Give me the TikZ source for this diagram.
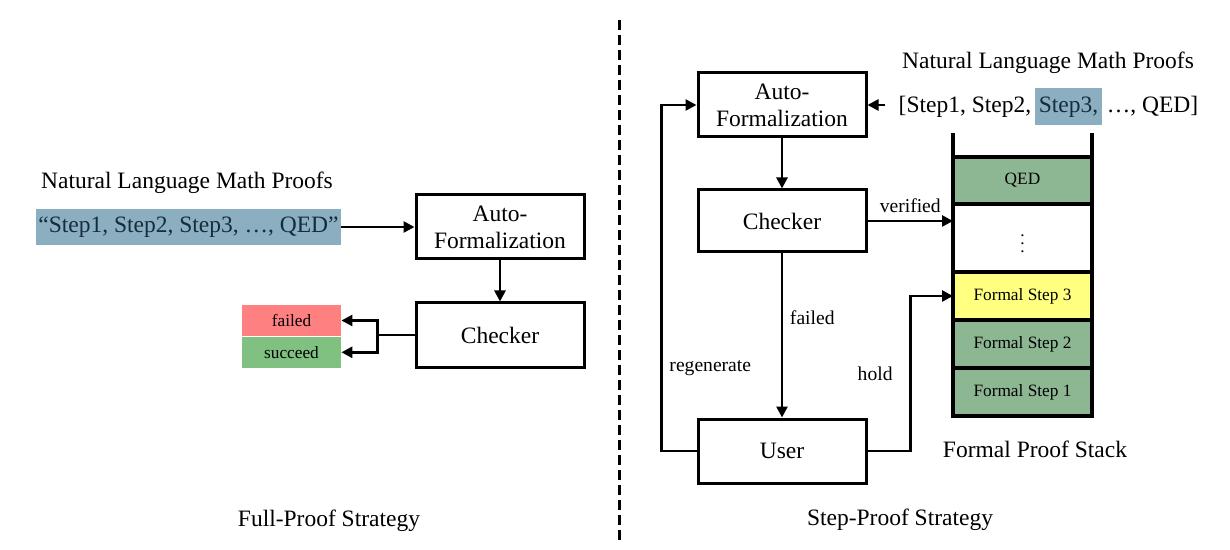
\documentclass[tikz,border=0pt]{standalone}
\usepackage{fontspec}
\setmainfont{Liberation Serif}
\usepackage{xcolor}
\usetikzlibrary{arrows.meta, calc, positioning}
\definecolor{proofblue}{RGB}{139,175,192}
\definecolor{prooftext}{RGB}{20,45,60}
\definecolor{failred}{RGB}{255,128,128}
\definecolor{succgreen}{RGB}{128,192,128}
\definecolor{stackgreen}{RGB}{141,183,146}
\definecolor{stackyellow}{RGB}{255,255,128}
\newcommand{\txtbig}{\fontsize{11.75}{13.5}\selectfont}
\newcommand{\txtmid}{\fontsize{9.8}{11}\selectfont}
\newcommand{\txtsmall}{\fontsize{8.65}{10}\selectfont}

\begin{document}
\begin{tikzpicture}[
x=0.5pt, y=-0.5pt,
texts/.style = {text=black, font=\txtbig},
labeltexts/.style = {text=black, font=\txtmid},
celltexts/.style = {text=black, font=\txtsmall},
procbox/.style = {texts, draw, line width=1.5pt, minimum width=84pt, minimum height=32pt, align=center, inner sep=0pt},
arrowline/.style = {line width=1.3pt, -{Triangle[length=5.5pt, width=5.5pt]}},
plainline/.style = {line width=1.3pt},
resultbox/.style = {celltexts, minimum width=49.5pt, minimum height=15.5pt, inner sep=0pt},
stackcell/.style = {celltexts, draw, line width=1.7pt, outer sep=0pt, minimum width=69.5pt, minimum height=24pt, inner sep=0pt},
stackwall/.style = {line width=1.7pt},
listtexts/.style = {texts, text height=9pt, text depth=3pt, inner ysep=0pt, inner xsep=0pt}
]
\useasboundingbox (0,0) rectangle (1230,550);

% full-proof side
\node[texts] (lnlp) at (187,183) {Natural Language Math Proofs};
\node[texts, fill=proofblue, text=prooftext, minimum width=152.5pt, minimum height=18pt, inner sep=0pt] (lproof) at (188.5,227) {“Step1, Step2, Step3, …, QED”};
\node[procbox] (lauto) at (500,227) {Auto-\\Formalization};
\node[procbox] (lcheck) at (500,335) {Checker};
\node[resultbox, fill=failred] (lfail) at (291.5,320.5) {failed};
\node[resultbox, fill=succgreen, below=0pt of lfail] (lsucc) {succeed};
\draw[arrowline] (lproof) -- (lauto);
\draw[arrowline] (lauto) -- (lcheck);
\draw[plainline] (lcheck.west) -- ++(-37,0) coordinate (lsplit);
\draw[arrowline] (lsplit) |- (lfail.east);
\draw[arrowline] (lsplit) |- (lsucc.east);
\node[texts] (lstrat) at (329,521) {Full-Proof Strategy};

\draw[line width=1.5pt, dash pattern=on 5pt off 2.5pt] (619,20) -- (619,540);

% step-proof side
\node[procbox] (rauto) at (782,105) {Auto-\\Formalization};
\node[procbox, minimum height=31pt] (rcheck) at (782,221) {Checker};
\node[procbox] (ruser) at (782,451) {User};
\node[texts] (rnlp) at (1048,63) {Natural Language Math Proofs};
\node[listtexts, fill=proofblue, text=prooftext, minimum width=33.5pt, minimum height=18.5pt] (rstep) at (1068.5,106.5) {Step3,};
\node[listtexts, left=1.5pt of rstep] (rpre) {[Step1, Step2,};
\node[listtexts, right=2pt of rstep] (rpost) {…, QED]};

\node[stackcell, fill=stackgreen, minimum height=23.5pt] (rqed) at (1022.5,180.5) {QED};
\node[stackcell, below=0pt of rqed, minimum height=34pt] (rdots) {$\vdots$};
\node[stackcell, fill=stackyellow, below=0pt of rdots] (rstep3) {Formal Step 3};
\node[stackcell, fill=stackgreen, below=0pt of rstep3] (rstep2) {Formal Step 2};
\node[stackcell, fill=stackgreen, below=0pt of rstep2] (rstep1) {Formal Step 1};
\draw[stackwall] ($(rqed.north west)+(0,-24)$) -- (rstep1.south west) -- (rstep1.south east) -- ($(rqed.north east)+(0,-24)$);
\node[texts] (rstack) at (1035,449) {Formal Proof Stack};
\node[texts] (rstrat) at (900,520) {Step-Proof Strategy};

\draw[arrowline, shorten <=6.5pt] (rpre.west |- rauto.east) -- (rauto.east);
\draw[arrowline] (rauto) -- (rcheck);
\draw[arrowline] (rcheck.east) -- (rcheck.east -| rdots.west) node[labeltexts, midway, above] {verified};
\draw[arrowline] (rcheck) -- (ruser) node[labeltexts, pos=0.39, right] {failed};
\draw[arrowline] (ruser.west) -- ++(-35,0) |- (rauto.west) node[labeltexts, pos=0.12, right] {regenerate};
\draw[arrowline] (ruser.east) -- ++(43,0) |- (rstep3.west) node[labeltexts, pos=0.25, left=5pt] {hold};
\end{tikzpicture}
\end{document}
